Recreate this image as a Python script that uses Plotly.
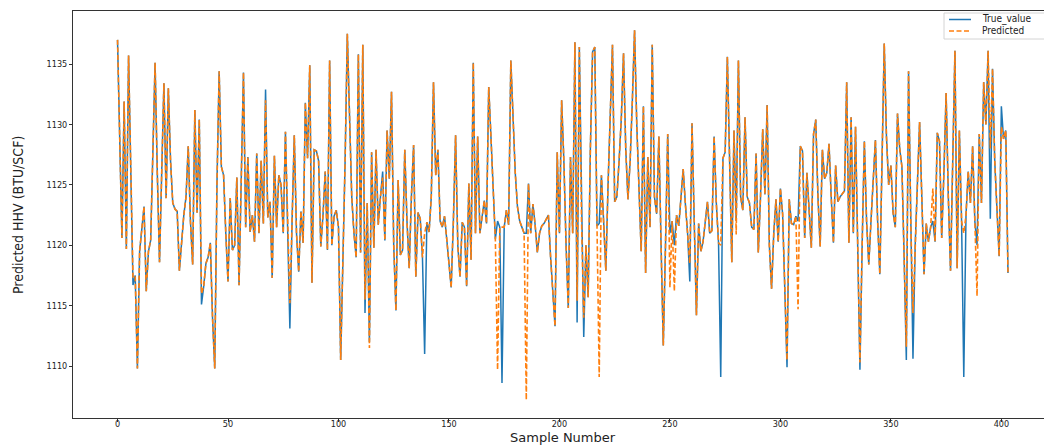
import plotly.graph_objects as go

# Measured higher heating value for each test sample (BTU/SCF)
true_value = [
    1137.0, 1128.0, 1120.6, 1131.9, 1119.7, 1135.7, 1126.0, 1116.7, 1117.5, 1109.8,
    1119.5, 1121.3, 1123.2, 1116.2, 1119.5, 1120.4, 1128.0, 1135.1, 1126.0, 1118.6,
    1126.0, 1133.4, 1123.9, 1133.0, 1127.0, 1123.5, 1123.0, 1122.8, 1117.9, 1120.5,
    1122.5, 1124.0, 1128.2, 1122.0, 1118.4, 1131.2, 1122.7, 1130.4, 1115.1, 1116.6,
    1118.5, 1119.0, 1120.2, 1114.0, 1109.8, 1125.0, 1134.4, 1126.5, 1125.8, 1121.0,
    1117.0, 1123.9, 1119.6, 1120.0, 1125.6, 1116.7, 1125.0, 1134.3, 1121.5, 1127.3,
    1121.1, 1122.5, 1120.3, 1127.6, 1121.0, 1127.0, 1121.8, 1132.9, 1122.3, 1123.6,
    1117.3, 1127.4, 1121.5, 1125.8, 1125.0, 1121.0, 1129.4, 1121.0, 1113.1, 1122.0,
    1129.1, 1121.0, 1117.8, 1122.8, 1120.2, 1131.8, 1127.2, 1134.9, 1116.9, 1127.9,
    1127.8, 1127.0, 1119.9, 1122.5, 1126.1, 1119.6, 1135.3, 1120.0, 1122.4, 1122.9,
    1121.5, 1110.5, 1118.0, 1127.0, 1137.5, 1131.0, 1124.0, 1121.0, 1119.0, 1135.8,
    1119.4, 1136.6, 1114.4, 1123.5, 1112.0, 1127.7, 1119.8, 1127.9, 1121.7, 1124.0,
    1126.1, 1120.4, 1129.5, 1125.5, 1132.7, 1120.0, 1114.6, 1125.4, 1119.2, 1119.6,
    1127.9, 1122.0, 1118.1, 1124.0, 1128.3, 1117.4, 1122.7, 1122.2, 1119.0, 1111.0,
    1121.9, 1121.1, 1124.0, 1133.5, 1125.8, 1127.9, 1122.0, 1121.5, 1122.4, 1120.5,
    1118.5, 1116.5, 1122.0, 1129.1, 1120.0, 1117.4, 1121.9, 1121.5, 1116.6, 1125.1,
    1118.8, 1135.1, 1121.0, 1129.0, 1121.0, 1122.5, 1123.7, 1121.8, 1133.1, 1129.0,
    1124.5, 1120.5, 1122.0, 1121.5, 1108.6, 1121.5, 1122.9, 1121.7, 1135.3, 1130.0,
    1126.0, 1123.2, 1122.0, 1121.5, 1121.0, 1121.0, 1125.1, 1121.0, 1123.4, 1121.7,
    1119.4, 1121.0, 1121.6, 1121.8, 1122.1, 1122.5, 1119.0, 1116.0, 1113.3, 1127.7,
    1121.0, 1132.0, 1127.0, 1120.0, 1114.8, 1127.3, 1121.0, 1136.8, 1113.6, 1136.4,
    1122.0, 1112.4, 1120.0, 1115.7, 1128.0, 1136.0, 1136.4, 1121.6, 1121.8, 1125.8,
    1122.0, 1117.9, 1125.0, 1131.0, 1136.6, 1123.6, 1124.0, 1127.0, 1130.5, 1135.9,
    1128.0, 1123.8, 1127.0, 1132.0, 1137.8, 1130.0, 1124.2, 1119.5, 1131.5, 1117.7,
    1127.3, 1121.5, 1136.6, 1124.0, 1122.6, 1129.0, 1120.0, 1111.7, 1120.0, 1129.2,
    1121.0, 1122.0, 1120.0, 1122.5, 1121.6, 1124.0, 1126.3, 1123.4, 1121.0, 1117.0,
    1130.1, 1122.0, 1114.2, 1121.8, 1119.5, 1120.3, 1122.0, 1123.6, 1121.0, 1121.2,
    1129.0, 1123.5, 1120.2, 1109.1, 1127.2, 1127.7, 1135.6, 1128.0, 1118.6, 1129.5,
    1122.0, 1135.3, 1124.0, 1122.9, 1130.6, 1124.0, 1123.5, 1121.5, 1121.3, 1127.6,
    1119.4, 1124.0, 1129.6, 1124.2, 1131.6, 1120.0, 1116.4, 1121.0, 1123.8, 1120.3,
    1124.7, 1122.6, 1116.0, 1109.9, 1123.8, 1121.8, 1121.7, 1122.4, 1122.0, 1128.2,
    1127.8, 1120.6, 1126.0, 1122.5, 1119.8, 1129.2, 1130.4, 1124.0, 1119.9, 1127.9,
    1125.5, 1126.0, 1128.4, 1124.0, 1120.2, 1126.6, 1123.6, 1124.0, 1124.3, 1124.5,
    1133.5, 1120.2, 1130.6, 1121.0, 1129.8, 1120.2, 1109.7, 1120.0, 1128.6, 1122.0,
    1118.4, 1122.0, 1125.5, 1128.7, 1122.0, 1117.6, 1127.0, 1136.7, 1129.0, 1125.0,
    1126.6, 1122.7, 1121.5, 1130.9, 1128.0, 1126.5, 1119.0, 1110.5, 1134.4, 1122.0,
    1110.6, 1120.0, 1126.0, 1130.2, 1124.0, 1117.6, 1121.8, 1120.3, 1121.5, 1122.0,
    1120.3, 1129.3, 1128.6, 1120.6, 1126.0, 1132.6, 1124.0, 1117.9, 1127.0, 1136.1,
    1118.1, 1129.5, 1122.0, 1109.1, 1122.5, 1126.1, 1123.5, 1128.2, 1122.0, 1120.0,
    1129.2, 1123.5, 1133.5, 1130.0, 1136.1, 1122.2, 1134.6, 1127.0, 1123.0, 1119.1,
    1131.5, 1128.8, 1129.5, 1117.7,
]

# Model prediction for the same samples
predicted = [
    1137.0, 1128.0, 1120.6, 1131.9, 1119.7, 1135.7, 1126.0, 1117.4, 1117.5, 1109.8,
    1119.5, 1121.3, 1123.2, 1116.2, 1119.5, 1120.4, 1128.0, 1135.1, 1126.0, 1118.6,
    1126.0, 1133.4, 1123.9, 1133.0, 1127.0, 1123.5, 1123.0, 1122.8, 1117.9, 1120.5,
    1122.5, 1124.0, 1128.2, 1122.0, 1118.4, 1131.2, 1122.7, 1130.4, 1116.0, 1116.6,
    1118.5, 1119.0, 1120.2, 1114.0, 1109.8, 1125.0, 1134.4, 1126.5, 1125.8, 1121.0,
    1117.0, 1123.9, 1119.6, 1120.0, 1125.6, 1116.7, 1125.0, 1134.3, 1121.5, 1127.3,
    1121.1, 1122.5, 1120.3, 1127.6, 1121.0, 1127.0, 1121.8, 1132.0, 1122.3, 1123.6,
    1117.3, 1127.4, 1121.5, 1125.8, 1125.0, 1121.0, 1129.4, 1121.0, 1115.2, 1122.0,
    1129.1, 1121.0, 1117.8, 1122.8, 1120.2, 1131.8, 1127.2, 1134.9, 1116.9, 1127.9,
    1127.8, 1127.0, 1119.9, 1122.5, 1126.1, 1119.6, 1135.3, 1120.0, 1122.4, 1122.9,
    1121.5, 1110.5, 1118.0, 1127.0, 1137.5, 1131.0, 1124.0, 1121.0, 1119.0, 1135.8,
    1119.4, 1136.6, 1115.5, 1123.5, 1111.5, 1127.7, 1119.8, 1127.9, 1121.7, 1124.0,
    1125.6, 1120.4, 1129.5, 1125.5, 1132.7, 1120.0, 1114.6, 1125.4, 1119.2, 1119.6,
    1127.9, 1122.0, 1118.1, 1124.0, 1128.3, 1117.4, 1122.7, 1122.2, 1119.0, 1121.0,
    1121.9, 1121.1, 1124.0, 1133.5, 1125.8, 1127.9, 1122.0, 1121.5, 1122.4, 1120.5,
    1118.5, 1116.5, 1122.0, 1129.1, 1120.0, 1117.4, 1121.9, 1121.5, 1116.6, 1125.1,
    1118.8, 1135.1, 1121.0, 1129.0, 1121.0, 1122.5, 1123.7, 1121.8, 1133.1, 1129.0,
    1124.5, 1120.5, 1109.7, 1121.5, 1121.5, 1121.5, 1122.9, 1121.7, 1135.3, 1130.0,
    1126.0, 1123.2, 1122.0, 1121.5, 1121.0, 1107.2, 1125.1, 1121.0, 1123.4, 1121.7,
    1119.4, 1121.0, 1121.6, 1121.8, 1122.1, 1122.5, 1119.0, 1116.0, 1113.3, 1127.7,
    1121.0, 1132.0, 1127.0, 1120.0, 1114.8, 1127.3, 1121.0, 1136.8, 1115.4, 1136.4,
    1122.0, 1114.0, 1120.0, 1115.7, 1128.0, 1136.0, 1136.4, 1121.6, 1109.1, 1125.8,
    1122.0, 1117.9, 1125.0, 1131.0, 1136.6, 1123.6, 1124.0, 1127.0, 1130.5, 1135.9,
    1128.0, 1123.8, 1127.0, 1132.0, 1137.8, 1130.0, 1124.2, 1119.5, 1131.5, 1117.7,
    1127.3, 1121.5, 1136.6, 1124.0, 1122.6, 1129.0, 1120.0, 1111.7, 1120.0, 1129.2,
    1116.5, 1122.0, 1116.2, 1122.5, 1121.6, 1124.0, 1126.3, 1123.4, 1121.0, 1118.5,
    1130.1, 1122.0, 1114.2, 1121.8, 1119.5, 1120.3, 1122.0, 1123.6, 1121.0, 1121.2,
    1129.0, 1123.5, 1120.2, 1120.0, 1127.2, 1127.7, 1135.6, 1128.0, 1118.6, 1129.5,
    1120.9, 1135.3, 1124.0, 1122.9, 1130.6, 1124.0, 1123.5, 1121.5, 1121.3, 1127.6,
    1119.4, 1124.0, 1129.6, 1124.2, 1131.6, 1120.0, 1116.4, 1121.0, 1123.8, 1120.3,
    1124.7, 1122.6, 1116.0, 1110.5, 1123.8, 1121.8, 1121.7, 1122.4, 1114.7, 1128.2,
    1127.8, 1120.6, 1126.0, 1122.5, 1119.8, 1129.2, 1130.4, 1124.0, 1119.9, 1127.9,
    1125.5, 1126.0, 1128.4, 1124.0, 1120.2, 1126.6, 1123.6, 1124.0, 1124.3, 1124.5,
    1133.5, 1120.2, 1130.6, 1121.0, 1129.8, 1120.2, 1110.3, 1120.0, 1128.6, 1122.0,
    1118.4, 1122.0, 1125.5, 1128.7, 1122.0, 1117.6, 1127.0, 1136.7, 1129.0, 1125.0,
    1126.6, 1122.7, 1121.5, 1130.9, 1128.0, 1126.5, 1119.0, 1111.6, 1134.4, 1122.0,
    1114.4, 1120.0, 1126.0, 1130.2, 1124.0, 1117.6, 1121.8, 1120.3, 1121.5, 1124.7,
    1120.3, 1129.3, 1128.6, 1120.6, 1126.0, 1132.6, 1124.0, 1117.9, 1127.0, 1136.1,
    1118.1, 1129.5, 1122.0, 1121.0, 1122.5, 1126.1, 1123.5, 1128.2, 1122.0, 1115.8,
    1129.2, 1123.5, 1133.5, 1130.0, 1136.1, 1128.0, 1134.6, 1127.0, 1123.0, 1119.1,
    1129.8, 1128.8, 1129.5, 1117.7,
]

sample_number = list(range(len(true_value)))

x_ticks = [0, 50, 100, 150, 200, 250, 300, 350, 400]
y_ticks = [1110, 1115, 1120, 1125, 1130, 1135]

TRUE_COLOR = "#1f77b4"
PRED_COLOR = "#ff7f0e"
PRED_DASH = "5px,2.5px"
NARROW = "DejaVu Sans Condensed, DejaVu Sans"
TICK_FONT = dict(family=NARROW, size=9, color="#222222")

# Plot area in pixels (left, top, right, bottom) for placing the legend box
L, T, R, B = 73, 11, 1044, 418


def px_x(p):
    return (p - L) / (R - L)


def px_y(p):
    return (B - p) / (B - T)


fig = go.Figure()
fig.add_trace(go.Scatter(
    x=sample_number, y=true_value, mode="lines", name="True_value",
    line=dict(color=TRUE_COLOR, width=1.5),
))
fig.add_trace(go.Scatter(
    x=sample_number, y=predicted, mode="lines", name="Predicted",
    line=dict(color=PRED_COLOR, width=1.6, dash=PRED_DASH),
))

# Compact legend box in the upper-right corner
legend_shapes = [
    dict(type="rect", xref="paper", yref="paper",
         x0=px_x(944), x1=px_x(1050), y0=px_y(39), y1=px_y(13),
         line=dict(color="#d4d4d4", width=1), fillcolor="rgba(255,255,255,0.85)",
         layer="above"),
    dict(type="line", xref="paper", yref="paper",
         x0=px_x(949), x1=px_x(971), y0=px_y(19.5), y1=px_y(19.5),
         line=dict(color=TRUE_COLOR, width=1.5), layer="above"),
    dict(type="line", xref="paper", yref="paper",
         x0=px_x(949), x1=px_x(971), y0=px_y(31), y1=px_y(31),
         line=dict(color=PRED_COLOR, width=1.6, dash=PRED_DASH), layer="above"),
]
legend_labels = [
    dict(text=name, xref="paper", yref="paper", x=px_x(980), y=px_y(py),
         xanchor="left", yanchor="middle", showarrow=False,
         font=dict(family=NARROW, size=10, color="#222222"))
    for name, py in (("True_value", 19.5), ("Predicted", 31))
]

fig.update_layout(
    width=1044, height=445,
    margin=dict(l=L, r=1044 - R, t=T, b=445 - B, autoexpand=False),
    paper_bgcolor="white", plot_bgcolor="white",
    showlegend=False,
    xaxis=dict(
        range=[-20.15, 419.3], tickvals=x_ticks, ticks="outside", ticklen=3,
        tickcolor="#333333", showgrid=False, zeroline=False,
        showline=True, linecolor="#333333", linewidth=1, mirror=True,
        tickfont=TICK_FONT, automargin=False, ticklabelstandoff=-6,
    ),
    yaxis=dict(
        range=[1105.7, 1139.39], tickvals=y_ticks, ticks="outside", ticklen=3,
        tickcolor="#333333", showgrid=False, zeroline=False,
        showline=True, linecolor="#333333", linewidth=1,
        tickfont=TICK_FONT, automargin=False,
    ),
    shapes=legend_shapes,
    annotations=legend_labels + [
        dict(text="Sample Number", xref="paper", yref="paper",
             x=0.5046, y=px_y(437.5), xanchor="center", yanchor="middle",
             showarrow=False,
             font=dict(family="DejaVu Sans", size=13, color="#222222")),
        dict(text="Predicted HHV (BTU/SCF)", xref="paper", yref="paper",
             x=px_x(18), y=0.4988, xanchor="center", yanchor="middle",
             textangle=-90, showarrow=False,
             font=dict(family=NARROW, size=14, color="#222222")),
    ],
)

fig.write_html("out.html")
